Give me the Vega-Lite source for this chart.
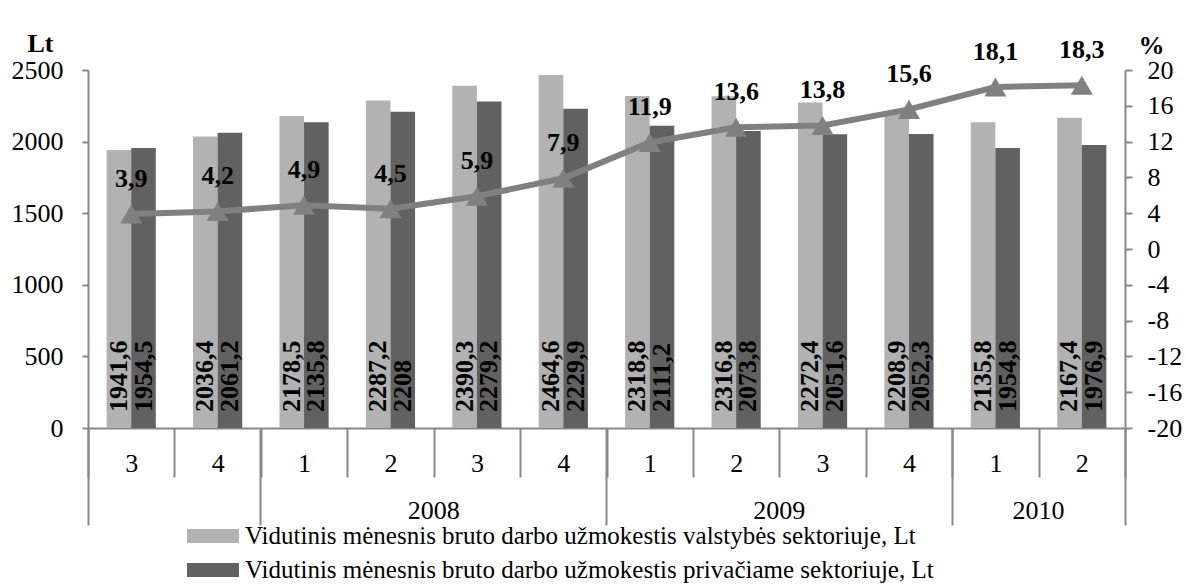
{
  "$schema": "https://vega.github.io/schema/vega-lite/v6.json",
  "width": 1037,
  "height": 358,
  "autosize": {"type": "none"},
  "padding": {"left": 88, "top": 70, "right": 61, "bottom": 158},
  "background": "white",
  "config": {
    "locale": {"number": {"decimal": ",", "thousands": "", "grouping": [3], "currency": ["", ""], "minus": "-"}},
    "view": {"stroke": null},
    "font": "Liberation Serif",
    "axis": {
      "labelFont": "Liberation Serif",
      "labelFontSize": 26,
      "labelColor": "black",
      "labelOverlap": false,
      "domainColor": "#878787",
      "tickColor": "#878787",
      "domainWidth": 2,
      "tickWidth": 2,
      "grid": false,
      "titleFont": "Liberation Serif",
      "titleColor": "black"
    }
  },
  "data": {
    "values": [
      {"q": "2007-3", "public": 1941.6, "private": 1954.5, "pct": 3.9},
      {"q": "2007-4", "public": 2036.4, "private": 2061.2, "pct": 4.2},
      {"q": "2008-1", "public": 2178.5, "private": 2135.8, "pct": 4.9},
      {"q": "2008-2", "public": 2287.2, "private": 2208, "pct": 4.5},
      {"q": "2008-3", "public": 2390.3, "private": 2279.2, "pct": 5.9},
      {"q": "2008-4", "public": 2464.6, "private": 2229.9, "pct": 7.9},
      {"q": "2009-1", "public": 2318.8, "private": 2111.2, "pct": 11.9},
      {"q": "2009-2", "public": 2316.8, "private": 2073.8, "pct": 13.6},
      {"q": "2009-3", "public": 2272.4, "private": 2051.6, "pct": 13.8},
      {"q": "2009-4", "public": 2208.9, "private": 2052.3, "pct": 15.6},
      {"q": "2010-1", "public": 2135.8, "private": 1954.8, "pct": 18.1},
      {"q": "2010-2", "public": 2167.4, "private": 1976.9, "pct": 18.3}
    ]
  },
  "layer": [
    {
      "transform": [{"fold": ["public", "private"], "as": ["series", "value"]}],
      "layer": [
        {
          "mark": {"type": "bar"},
          "encoding": {
            "x": {
              "field": "q", "type": "nominal", "sort": null,
              "scale": {"domain": ["2007-3","2007-4","2008-1","2008-2","2008-3","2008-4","2009-1","2009-2","2009-3","2009-4","2010-1","2010-2"], "paddingInner": 0, "paddingOuter": 0},
              "axis": {
                "title": null,
                "tickBand": "extent",
                "tickSize": 49,
                "labelExpr": "datum.value ? slice('' + datum.value, 5) : ''",
                "labelPadding": -14,
                "labelBaseline": "middle",
                "labelAngle": 0
              }
            },
            "xOffset": {
              "field": "series", "type": "nominal",
              "scale": {"domain": ["public", "private"], "paddingInner": 0, "paddingOuter": 0.757}
            },
            "y": {
              "field": "value", "type": "quantitative",
              "scale": {"domain": [0, 2500], "nice": false},
              "axis": {
                "values": [0, 500, 1000, 1500, 2000, 2500],
                "tickCount": 20,
                "format": "d",
                "tickSize": 6,
                "labelPadding": 19,
                "title": "Lt",
                "titleAngle": 0,
                "titleX": -48,
                "titleY": -27,
                "titleAlign": "center",
                "titleBaseline": "middle",
                "titleFontSize": 26,
                "titleFontWeight": "bold"
              }
            },
            "color": {
              "field": "series", "type": "nominal",
              "scale": {"domain": ["public", "private"], "range": ["#b2b2b2", "#616161"]},
              "legend": {
                "orient": "none",
                "legendX": 112,
                "legendY": 453,
                "title": null,
                "direction": "vertical",
                "labelExpr": "datum.value == 'public' ? 'Vidutinis mėnesnis bruto darbo užmokestis valstybės sektoriuje, Lt' : 'Vidutinis mėnesnis bruto darbo užmokestis privačiame sektoriuje, Lt'",
                "symbolType": "M-2,-0.54L2,-0.54L2,0.54L-2,0.54Z",
                "symbolSize": 676,
                "symbolStrokeWidth": 0,
                "labelFont": "Liberation Serif",
                "labelFontSize": 25,
                "labelColor": "black",
                "labelLimit": 1200,
                "labelOffset": 19,
                "rowPadding": 8,
                "padding": 0
              }
            }
          }
        },
        {
          "mark": {"type": "text", "angle": 270, "align": "left", "baseline": "middle", "dx": 16, "font": "Liberation Serif", "fontSize": 26, "fontWeight": "bold", "color": "black"},
          "encoding": {
            "x": {"field": "q", "type": "nominal", "sort": null},
            "xOffset": {"field": "series", "type": "nominal"},
            "y": {"datum": 0, "type": "quantitative"},
            "text": {"field": "value", "type": "quantitative", "format": "~f"}
          }
        }
      ]
    },
    {
      "layer": [
        {
          "mark": {"type": "line", "color": "#808080", "strokeWidth": 6},
          "encoding": {
            "x": {
              "field": "q", "type": "nominal", "sort": null,
              "axis": {
                "orient": "bottom",
                "title": null,
                "values": ["2007-3", "2008-1", "2009-1", "2010-1", "2008-3", "2009-3", "2010-2"],
                "bandPosition": 0,
                "tickSize": 97,
                "domain": false,
                "labelExpr": "datum.value == '2008-3' ? '2008' : datum.value == '2009-3' ? '2009' : datum.value == '2010-2' ? '2010' : ''",
                "labelOffset": -43.2,
                "labelPadding": -15,
                "labelBaseline": "middle",
                "labelAngle": 0,
                "tickOpacity": {"condition": {"test": "datum.value == '2008-3' || datum.value == '2009-3' || datum.value == '2010-2'", "value": 0}, "value": 1}
              }
            },
            "y": {
              "field": "pct", "type": "quantitative",
              "scale": {"domain": [-20, 20], "nice": false},
              "axis": {
                "orient": "right",
                "values": [-20, -16, -12, -8, -4, 0, 4, 8, 12, 16, 20],
                "tickCount": 20,
                "format": "d",
                "tickSize": 7,
                "labelPadding": 15,
                "title": "%",
                "titleAngle": 0,
                "titleX": 26,
                "titleY": -25,
                "titleAlign": "center",
                "titleBaseline": "middle",
                "titleFontSize": 26,
                "titleFontWeight": "bold"
              }
            }
          }
        },
        {
          "mark": {"type": "point", "shape": "triangle-up", "size": 484, "filled": true, "color": "#808080", "opacity": 1},
          "encoding": {
            "x": {"field": "q", "type": "nominal", "sort": null},
            "y": {"field": "pct", "type": "quantitative"}
          }
        }
      ]
    },
    {
      "mark": {"type": "text", "align": "center", "baseline": "middle", "dy": -35, "font": "Liberation Serif", "fontSize": 26, "fontWeight": "bold", "color": "black"},
      "encoding": {
        "x": {
          "field": "q", "type": "nominal", "sort": null,
          "axis": {
            "orient": "bottom",
            "title": null,
            "values": ["2010-2"],
            "bandPosition": 1,
            "tickSize": 97,
            "labels": false,
            "domain": false
          }
        },
        "y": {"field": "pct", "type": "quantitative", "scale": {"domain": [-20, 20], "nice": false}, "axis": null},
        "text": {"field": "pct", "type": "quantitative", "format": ".1f"}
      }
    }
  ],
  "resolve": {"scale": {"y": "independent"}, "axis": {"x": "independent"}}
}
